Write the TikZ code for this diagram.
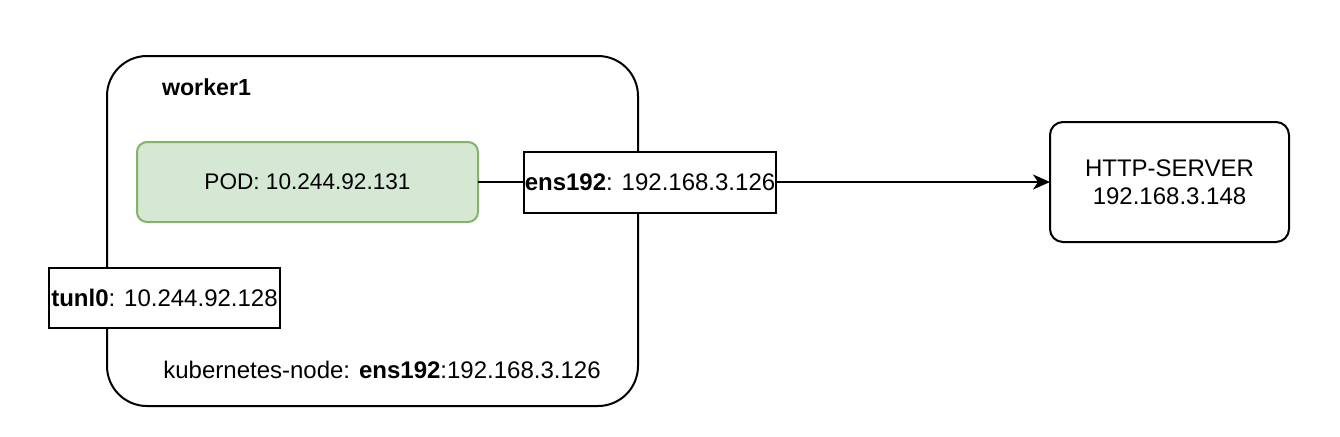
\documentclass[tikz,border=0pt]{standalone}
\usepackage{fontspec}
\setmainfont{Liberation Sans}
\usepackage[dvipsnames]{xcolor}
\usetikzlibrary{arrows.meta}
\definecolor{podfill}{HTML}{D5E8D4}
\definecolor{podline}{HTML}{82B366}

\begin{document}
\begin{tikzpicture}[x=0.5pt,y=-0.5pt,line width=1pt,
  box/.style={draw,fill=white,inner sep=0pt,outer sep=0pt,font=\fontsize{12}{14}\selectfont},
  lbl/.style={inner sep=0pt,font=\fontsize{12}{14}\selectfont}]
\useasboundingbox (0,0) rectangle (1340,436); % canvas
\coordinate (W) at (372.5,231); % center of worker box
\coordinate (P) at (307.5,182); % center of pod
\coordinate (E) at (650,182); % center of ens192 interface
\coordinate (T) at (164.5,298); % center of tunl0 interface
\coordinate (H) at (1169.5,182); % center of http server
\node[box,rounded corners=20pt,minimum width=265.5pt,minimum height=175pt] (worker) at (W) {}; % worker1 host
\node[lbl,anchor=base west,font=\fontsize{11.6}{14}\selectfont\bfseries] (wname) at (161,95) {worker1}; % host name
\node[lbl,anchor=base] (knode) at (382,378) {kubernetes-node: \textbf{ens192}:192.168.3.126}; % host address
\node[box,fill=podfill,draw=podline,rounded corners=5pt,minimum width=170.5pt,minimum height=40pt,font=\fontsize{11.3}{14}\selectfont] (pod) at (P) {POD: 10.244.92.131}; % the pod
\node[box,minimum width=126pt,minimum height=30.5pt] (ens) at (E) {\textbf{ens192}: 192.168.3.126}; % outgoing interface
\node[box,minimum width=115.5pt,minimum height=30pt] (tunl) at (T) {\textbf{tunl0}: 10.244.92.128}; % tunnel interface
\node[box,rounded corners=6.5pt,minimum width=119.5pt,minimum height=60pt,align=center] (http) at (H) {HTTP-SERVER\\192.168.3.148}; % remote server
\draw (pod.east) -- (ens.west); % pod to interface
\draw[-{Stealth[length=8.5pt,width=7.5pt,inset=2.5pt]}] (ens.east) -- (http.west); % request to server
\end{tikzpicture}
\end{document}
